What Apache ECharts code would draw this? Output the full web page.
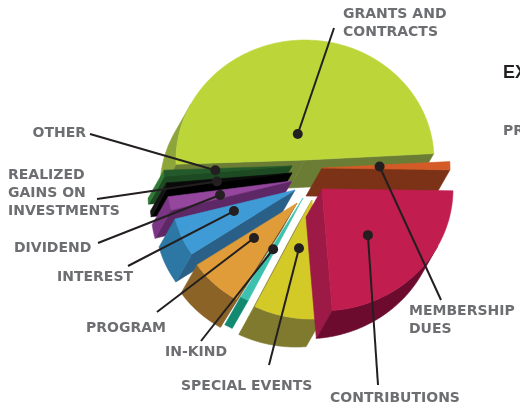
<!DOCTYPE html>
<html>
<head>
<meta charset="utf-8">
<script src="https://cdn.jsdelivr.net/npm/echarts@6/dist/echarts.min.js"></script>
<style>
  html, body { margin: 0; padding: 0; background: #fff; }
  #chart { width: 520px; height: 409px; }
</style>
</head>
<body>
<div id="chart"></div>
<script>
// revenue sources, clockwise from the left edge of the big slice
var categories = ['GRANTS AND\nCONTRACTS', 'MEMBERSHIP\nDUES', 'CONTRIBUTIONS', 'SPECIAL EVENTS', 'IN-KIND',
    'PROGRAM', 'INTEREST', 'DIVIDEND', 'REALIZED\nGAINS ON\nINVESTMENTS', 'OTHER']
var shares = [49.7, 1.1, 23.5, 8.6, 1.1, 7.2, 5.3, 1.9, 0.8, 0.8]

// [top, cut face, outer wall]
var colors = [
    ['#bcd63a', '#6b7d35', '#8ea53b'],
    ['#d45b27', '#7c3217', '#7c3217'],
    ['#c11d4f', '#9c1a45', '#6d0b2f'],
    ['#d3c927', '#8a8430', '#807a2f'],
    ['#3cc1ae', '#178b74', '#128a71'],
    ['#df9c38', '#7a5420', '#8c6326'],
    ['#3f9bd5', '#2a5f87', '#2d77a5'],
    ['#94479d', '#5e2766', '#7a3585'],
    ['#0a0a0a', '#000000', '#141414'],
    ['#245a2b', '#1d4a22', '#2f7a36']
]

// pseudo 3d layout
var CX = 305, CY = 185, TILT = 0.93, EX = -16, EY = 28, START = 182
var explode = [[0, -25], [17, -17], [17, 4], [7, 15], [-2, 13], [-8, 18], [-10, 5], [-13, -4], [-13, -12], [-13, -19]]
var radius = [129, 128, 131, 128, 123, 120, 124, 125, 126, 128]
var drawOrder = [0, 1, 9, 8, 7, 6, 5, 4, 3, 2]
var dotAt = [[0.224, 0.433], [0.45, 0.38], [0.516, 0.548], [0.418, 0.6], [0.51, 0.5],
    [0.476, 0.71], [0.525, 0.7], [0.588, 0.41], [0.6, 0.3], [0.6, 0.5]]
// label x, y, align, leader start x, y
var labels = [
    [343, 23, 'left', 334, 28],
    [409, 320, 'left', 441, 300],
    [330, 398, 'left', 378, 385],
    [181, 386, 'left', 269, 365],
    [165, 352, 'left', 201, 341],
    [86, 328, 'left', 157, 312],
    [57, 277, 'left', 128, 266],
    [14, 248, 'left', 98, 243],
    [8, 193, 'left', 97, 199],
    [86, 133, 'right', 90, 134]
]

var total = shares.reduce(function (s, v) { return s + v }, 0)
var acc = 0
var angles = shares.map(function (v) {
    var a0 = START - acc / total * 360
    acc += v
    return [a0, START - acc / total * 360]
})

// outer wall faces the viewer around this angle
var wallMid = Math.atan2(-EY, EX * TILT) * 180 / Math.PI

function renderItem(params, api) {
    var i = params.dataIndex
    var a0 = angles[i][0], a1 = angles[i][1]
    var cx = CX + explode[i][0], cy = CY + explode[i][1], r = radius[i]
    var c = colors[i]
    var z = drawOrder[i] * 10

    function P(a, d) {
        var t = a * Math.PI / 180
        return [cx + r * Math.cos(t) + d * EX, cy - r * TILT * Math.sin(t) + d * EY]
    }
    function arc(from, to, d) {
        var n = Math.max(2, Math.ceil(Math.abs(from - to) * 2))
        var pts = []
        for (var k = 0; k <= n; k++) pts.push(P(from + (to - from) * k / n, d))
        return pts
    }
    function poly(points, fill, z2) {
        return { type: 'polygon', z2: z2, shape: { points: points },
            style: { fill: fill, stroke: fill, lineWidth: 0.6 } }
    }

    var children = []
    var apex0 = [cx, cy], apex1 = [cx + EX, cy + EY]

    // cut faces
    var rad0 = a0 * Math.PI / 180, rad1 = a1 * Math.PI / 180
    if (-TILT * Math.sin(rad0) * EX - Math.cos(rad0) * EY > 0) {
        children.push(poly([apex0, P(a0, 0), P(a0, 1), apex1], c[1], z + 1))
    }
    if (TILT * Math.sin(rad1) * EX + Math.cos(rad1) * EY > 0) {
        children.push(poly([apex0, P(a1, 0), P(a1, 1), apex1], c[1], z + 1))
    }

    // outer wall
    [-360, 0, 360].forEach(function (shift) {
        var lo = Math.max(a1, wallMid - 90 + shift)
        var hi = Math.min(a0, wallMid + 90 + shift)
        if (hi - lo > 0.01) {
            var pts = arc(hi, lo, 0).concat(arc(lo, hi, 1))
            children.push(poly(pts, c[2], z + 2))
        }
    })

    // top face
    children.push(poly([apex0].concat(arc(a0, a1, 0)), c[0], z + 3))

    // dot + leader + label
    var d = dotAt[i]
    var am = (a0 + (a1 - a0) * d[1]) * Math.PI / 180
    var dx = cx + d[0] * r * Math.cos(am), dy = cy - d[0] * r * TILT * Math.sin(am)
    var L = labels[i]
    children.push({ type: 'line', z2: 1000, shape: { x1: L[3], y1: L[4], x2: dx, y2: dy },
        style: { stroke: '#231f20', lineWidth: 2 } })
    children.push({ type: 'circle', z2: 1001, shape: { cx: dx, cy: dy, r: 5 },
        style: { fill: '#231f20' } })
    children.push({ type: 'text', z2: 1002, style: {
        text: categories[i], x: L[0], y: L[1], textAlign: L[2], textVerticalAlign: 'middle',
        font: 'bold 14px "DejaVu Sans"', fill: '#6d6e71', lineHeight: 18 } })

    return { type: 'group', children: children }
}

var chart = echarts.init(document.getElementById('chart'), null, { renderer: 'canvas' })
chart.setOption({
    animation: false,
    graphic: [
        { type: 'text', left: 503, top: 64, style: { text: 'EXPENSES', font: 'bold 18px "Liberation Sans"', fill: '#231f20' } },
        { type: 'text', left: 503, top: 124, style: { text: 'PROGRAM', font: 'bold 14px "DejaVu Sans"', fill: '#6d6e71' } }
    ],
    series: [{
        type: 'custom',
        coordinateSystem: 'none',
        renderItem: renderItem,
        data: shares.map(function (v, i) { return { name: categories[i], value: v } })
    }]
})
</script>
</body>
</html>
